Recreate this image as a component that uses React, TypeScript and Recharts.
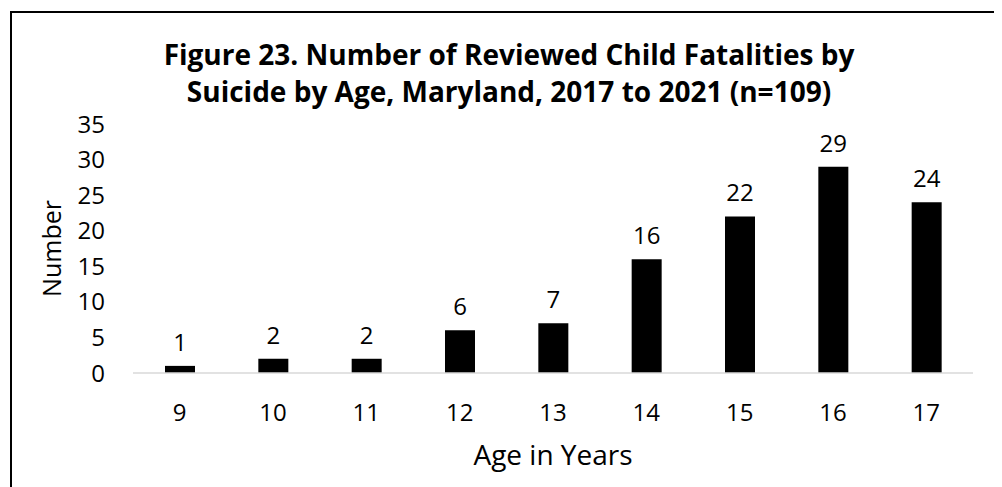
import { BarChart, Bar, XAxis, YAxis, LabelList } from 'recharts'

const AGES = ['9', '10', '11', '12', '13', '14', '15', '16', '17']
const FATALITIES = [1, 2, 2, 6, 7, 16, 22, 29, 24]
const Y_TICKS = [0, 5, 10, 15, 20, 25, 30, 35]

const TITLE_LINES = [
  'Figure 23. Number of Reviewed Child Fatalities by',
  'Suicide by Age, Maryland, 2017 to 2021 (n=109)',
]

const FONT = '"Open Sans", "Noto Sans", sans-serif'

const data = AGES.map((age, i) => ({ age, count: FATALITIES[i] }))

export default function App() {
  return (
    <div style={{ position: 'relative', width: 994, height: 479, overflow: 'hidden', fontFamily: FONT }}>
      <div
        style={{
          position: 'absolute',
          left: 2,
          top: 3,
          width: 1100,
          height: 600,
          border: '2px solid #000',
          boxSizing: 'border-box',
        }}
      />
      <div
        style={{
          position: 'absolute',
          left: 0,
          width: 1002,
          top: 28,
          textAlign: 'center',
          fontWeight: 700,
          fontSize: 28,
          lineHeight: '37px',
          color: '#000',
        }}
      >
        {TITLE_LINES.map((t) => (
          <div key={t}>{t}</div>
        ))}
      </div>
      <div style={{ position: 'absolute', left: 0, top: 0 }}>
        <BarChart
          width={994}
          height={479}
          data={data}
          margin={{ top: 116, right: 29, bottom: 0, left: 0 }}
        >
          <XAxis
            dataKey="age"
            height={114}
            axisLine={{ stroke: '#d9d9d9', strokeWidth: 1.5 }}
            tickLine={false}
            tickSize={0}
            tickMargin={31}
            tick={{ fill: '#000', fontSize: 24, fontFamily: FONT }}
            label={{
              value: 'Age in Years',
              position: 'insideBottom',
              offset: 22,
              fill: '#000',
              fontSize: 28,
              fontFamily: FONT,
            }}
          />
          <YAxis
            width={125}
            domain={[0, 35]}
            ticks={Y_TICKS}
            interval={0}
            axisLine={false}
            tickLine={false}
            tickSize={0}
            tickMargin={28}
            tick={{ fill: '#000', fontSize: 24, fontFamily: FONT }}
            label={{
              value: 'Number',
              angle: -90,
              position: 'insideLeft',
              offset: 44,
              fill: '#000',
              fontSize: 25,
              fontFamily: FONT,
              style: { textAnchor: 'middle' },
            }}
          />
          <Bar dataKey="count" fill="#000" barSize={30} isAnimationActive={false}>
            <LabelList
              dataKey="count"
              position="top"
              offset={15}
              fill="#000"
              fontSize={24}
              fontFamily={FONT}
            />
          </Bar>
        </BarChart>
      </div>
    </div>
  )
}
